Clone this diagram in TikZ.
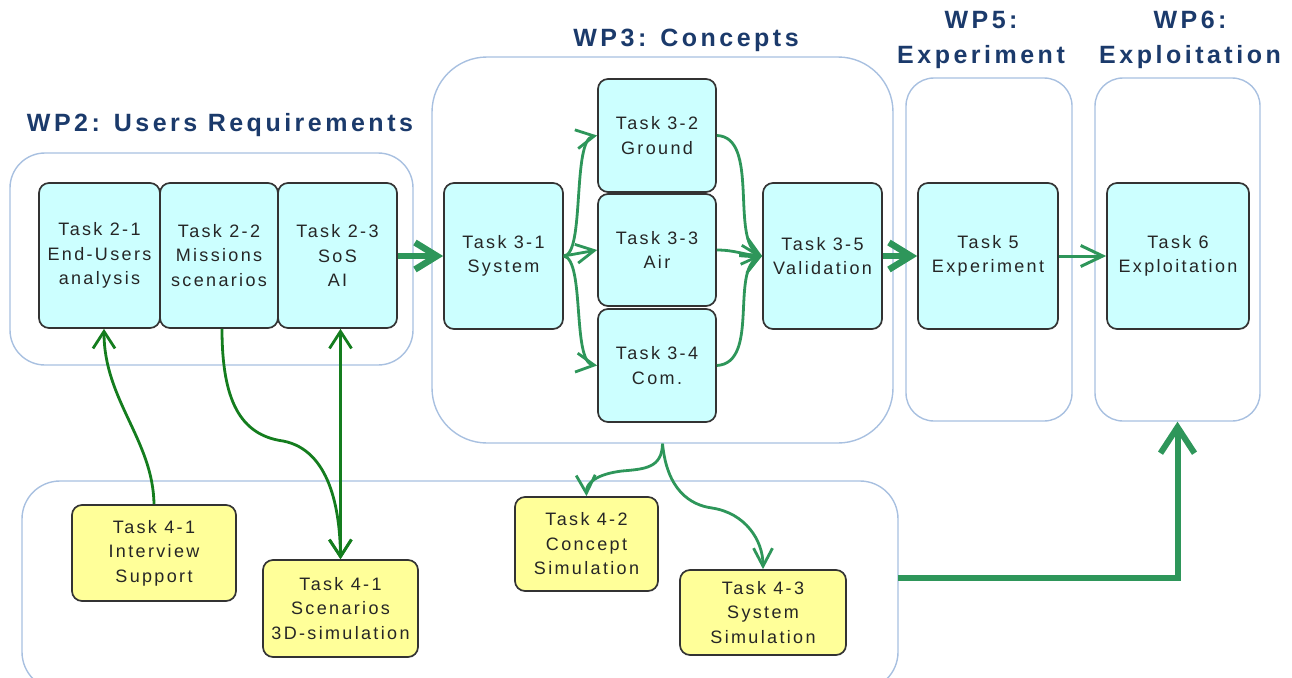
\documentclass[tikz,border=0pt]{standalone}
\usepackage{fontspec}
\setmainfont{Liberation Sans}[LetterSpace=13]
\usetikzlibrary{arrows.meta}
\definecolor{cyanfill}{RGB}{204,255,255}
\definecolor{yelfill}{RGB}{255,255,153}
\definecolor{grpline}{RGB}{168,192,224}
\definecolor{ttl}{RGB}{27,58,107}
\definecolor{mgreen}{RGB}{46,150,90}
\definecolor{dgreen}{RGB}{20,125,30}
\begin{document}
\begin{tikzpicture}[x=1pt,y=-1pt,
  taskc/.style={draw=black!80, line width=1.7pt, rounded corners=10pt, fill=cyanfill, align=center, inner sep=0pt, font=\fontsize{18}{24.5}\selectfont, text=black!85},
  tasky/.style={taskc, fill=yelfill},
  grp/.style={draw=grpline, line width=1.4pt, inner sep=0pt},
  ttlsty/.style={text=ttl, font=\fontsize{25}{35}\selectfont\bfseries\addfontfeatures{LetterSpace=14}, align=center},
  arrthin/.style={draw=mgreen, line width=2.8pt, -{Straight Barb[length=18pt,width=19pt]}},
  arrmid/.style={draw=mgreen, line width=3pt, -{Straight Barb[length=22pt,width=21pt]}},
  arrthick/.style={draw=mgreen, line width=6.5pt, -{Straight Barb[length=22pt,width=27pt]}},
  arrdark/.style={draw=dgreen, line width=2.8pt, -{Straight Barb[length=17pt,width=22pt]}}]
\useasboundingbox (0,0) rectangle (1292,677);
\clip (0,0) rectangle (1292,677);
% groups
\node[grp, rounded corners=35pt, minimum width=403pt, minimum height=212pt] (wp2) at (211.5,259) {};
\node[grp, rounded corners=55pt, minimum width=461pt, minimum height=386pt] (wp3) at (662.5,250) {};
\node[grp, rounded corners=28pt, minimum width=166pt, minimum height=343pt] (wp5) at (989,249.5) {};
\node[grp, rounded corners=28pt, minimum width=165pt, minimum height=343pt] (wp6) at (1177.5,249.5) {};
\node[grp, rounded corners=38pt, minimum width=876pt, minimum height=209pt] (wp4) at (460,585.5) {};
% titles
\node[ttlsty] (ti2) at (220,125) {WP2: Users Requirements};
\node[ttlsty] (ti3) at (686,40) {WP3: Concepts};
\node[ttlsty] (ti5) at (981,40) {WP5:\\Experiment};
\node[ttlsty] (ti6) at (1190,40) {WP6:\\Exploitation};
% tasks
\node[taskc, minimum width=121pt, minimum height=145pt] (t21) at (99.5,255.5) {Task 2-1\\End-Users\\analysis};
\node[taskc, minimum width=118pt, minimum height=145pt] (t22) at (219,255.5) {Task 2-2\\Missions\\scenarios};
\node[taskc, minimum width=119pt, minimum height=145pt] (t23) at (337.5,255.5) {Task 2-3\\SoS\\AI};
\node[taskc, minimum width=119pt, minimum height=146pt] (t31) at (503.5,256) {Task 3-1\\System};
\node[taskc, minimum width=118pt, minimum height=113pt] (t32) at (657,135.5) {Task 3-2\\Ground};
\node[taskc, minimum width=118pt, minimum height=112pt] (t33) at (657,250) {Task 3-3\\Air};
\node[taskc, minimum width=118pt, minimum height=113pt] (t34) at (657,365.5) {Task 3-4\\Com.};
\node[taskc, minimum width=119pt, minimum height=146pt] (t35) at (822.5,256) {Task 3-5\\Validation};
\node[taskc, minimum width=140pt, minimum height=146pt] (t5) at (988,256) {Task 5\\Experiment};
\node[taskc, minimum width=142pt, minimum height=146pt] (t6) at (1178,256) {Task 6\\Exploitation};
\node[tasky, minimum width=164pt, minimum height=96pt] (t41a) at (154,553) {Task 4-1\\Interview\\Support};
\node[tasky, minimum width=155pt, minimum height=97pt] (t41b) at (340.5,608.5) {Task 4-1\\Scenarios\\3D-simulation};
\node[tasky, minimum width=143pt, minimum height=94pt] (t42) at (586.5,544) {Task 4-2\\Concept\\Simulation};
\node[tasky, minimum width=166pt, minimum height=85pt] (t43) at (763,612.5) {Task 4-3\\System\\Simulation};
% main flow
\draw[arrthick] (t23.east |- t31.west) -- (t31.west);
\draw[arrthick] (t35.east) -- (t5.west);
\draw[arrmid] (t5.east) -- (t6.west);
% fan out
\draw[arrthin] (t31.east) .. controls (585,255) and (572,140) .. (t32.west);
\draw[arrthin] (t31.east) -- (t33.west);
\draw[arrthin] (t31.east) .. controls (585,260) and (572,362) .. (t34.west);
% fan in
\draw[arrthin] (t32.east) .. controls (760,137) and (730,240) .. (t35.west);
\draw[arrthin] (t33.east) .. controls (735,250) and (745,255) .. (t35.west);
\draw[arrthin] (t34.east) .. controls (760,363) and (730,270) .. (t35.west);
% WP4 links
\draw[arrdark] (t41a.north) .. controls (153,440) and (104,400) .. ([xshift=4.5pt]t21.south);
\draw[arrdark] ([xshift=3pt]t22.south) .. controls (222,400) and (240,435) .. (283,441) .. controls (330,450) and (340,510) .. (t41b.north);
\draw[arrdark, {Straight Barb[length=17pt,width=22pt]}-{Straight Barb[length=17pt,width=22pt]}] (t41b.north |- t23.south) -- (t41b.north);
% WP3 to simulations
\draw[arrthin] (wp3.south) .. controls (662,468) and (645,469) .. (622,471) .. controls (597,474) and (586,483) .. (t42.north);
\draw[arrthin] (wp3.south) .. controls (667,490) and (690,505) .. (712,508) .. controls (745,513) and (763,540) .. (t43.north);
% WP4 to WP6
\coordinate (c4) at (898,578);
\draw[draw=mgreen, line width=6pt, -{Straight Barb[length=26pt,width=34pt]}] (c4) -| (wp6.south);
\end{tikzpicture}
\end{document}
